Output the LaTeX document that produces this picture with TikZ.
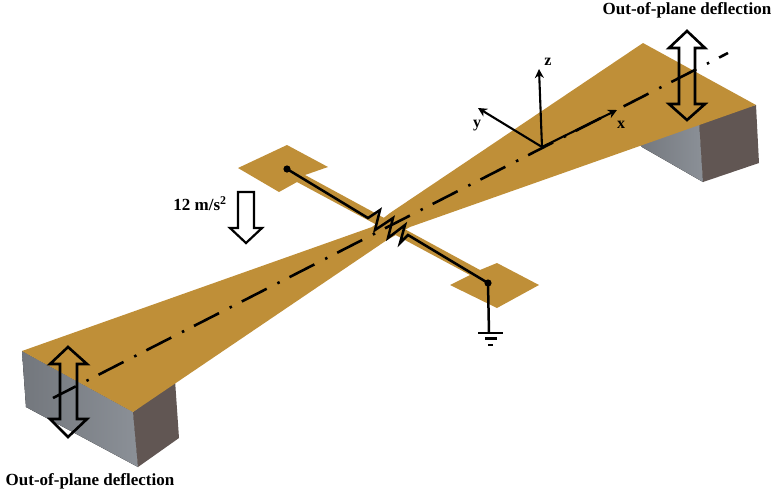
\documentclass[tikz,border=0pt]{standalone}
\usepackage{fontspec}
\setmainfont{Liberation Serif}
\definecolor{gold}{HTML}{BF8F38}
\definecolor{greyA}{HTML}{73777D}
\definecolor{greyB}{HTML}{8B9097}
\definecolor{brownish}{HTML}{615653}
\tikzset{
  wing/.style={fill=gold,draw=none},
  darkface/.style={fill=brownish,draw=none},
  greyface/.style={left color=greyA,right color=greyB,draw=none},
  wire/.style={draw=black,line width=2.5pt,line join=miter},
  outlinearrow/.style={draw=black,line width=2.6pt,line join=miter,fill=none},
  axisline/.style={draw=black,line width=2.1pt,-{Stealth[length=9pt,width=9pt]}},
  lab/.style={font=\bfseries\fontsize{17}{19}\selectfont,inner sep=0pt,text=black},
  axlab/.style={font=\bfseries\fontsize{16}{18}\selectfont,inner sep=0pt,text=black},
}
\usetikzlibrary{arrows.meta}
\begin{document}
\begin{tikzpicture}[x=1pt,y=-1pt]
\useasboundingbox (0,0) rectangle (777,499);
% blocks
\fill[greyface] (22,351) -- (26,407) -- (138,467) -- (133,412) -- cycle;
\fill[darkface] (133,412) -- (138,467) -- (179,438) -- (175,380) -- cycle;
\fill[greyface] (636,140) -- (642,147) -- (703,182) -- (699,120) -- cycle;
\fill[darkface] (699,120) -- (703,182) -- (759,163) -- (756,105) -- cycle;
% cantilever wings and the transverse beam with pads
\fill[wing] (22,351) -- (372,227) -- (390,213) -- (643,43) -- (756,105) -- (410,227) -- (387,240) -- (133,412) -- cycle;
\fill[wing] (238,168) -- (287,145) -- (328,167) -- (305,175) -- (480,270) -- (497,263) -- (539,285) -- (497,308) -- (450,285) -- (470,275) -- (297,182) -- (279,192) -- cycle;
% centre line
\coordinate (cA) at (53,398);
\coordinate (cB) at (728,53);
\draw[draw=black,line width=2.6pt,dash pattern=on 28pt off 12pt on 2.5pt off 11.1pt,dash phase=2.4pt] (cA) -- (cB);
% wire with piezoresistor
\coordinate (padL) at (287,169);
\coordinate (padR) at (488,283);
\coordinate (gnd) at (489,333);
\fill[black] (padL) circle (3.6pt);
\fill[black] (padR) circle (3.6pt);
\draw[wire] (padL) -- (368,218) -- (380,210) -- (375,230) -- (393,218) -- (388,238) -- (405,225) -- (400,243) -- (408,235) -- (padR);
\draw[wire] (padR) -- (gnd);
\coordinate (g1a) at (478,333); \coordinate (g1b) at (503,333);
\coordinate (g2a) at (485,338.5); \coordinate (g2b) at (497,338.5);
\coordinate (g3a) at (488,345); \coordinate (g3b) at (493,345);
\draw[wire] (g1a) -- (g1b);
\draw[wire] (g2a) -- (g2b);
\draw[wire] (g3a) -- (g3b);
% axes
\coordinate (o) at (542,147);
\coordinate (xt) at (617,110);
\coordinate (yt) at (478,108);
\coordinate (zt) at (539,69);
\draw[axisline] (o) -- (xt);
\draw[axisline] (o) -- (yt);
\draw[axisline] (o) -- (zt);
\node[axlab] (xl) at (621,125) {x};
\node[axlab] (yl) at (477,126) {y};
\node[axlab] (zl) at (548,62) {z};
% outlined arrows
\draw[outlinearrow] (68,347) -- (87,364) -- (77,364) -- (77,419) -- (87,419) -- (68,437) -- (50,419) -- (60,419) -- (60,364) -- (50,364) -- cycle;
\draw[outlinearrow] (687,31) -- (705,48) -- (695,48) -- (695,104) -- (705,104) -- (687,120) -- (669,104) -- (679,104) -- (679,48) -- (669,48) -- cycle;
\draw[outlinearrow,line width=2.2pt] (238,192) -- (254,192) -- (254,228) -- (262,228) -- (246,243) -- (230,228) -- (238,228) -- cycle;
% labels
\node[lab] (t1) at (687,10) {Out-of-plane deflection};
\node[lab] (t2) at (90,481) {Out-of-plane deflection};
\node[lab] (t3) at (200,204) {12 m/s\textsuperscript{2}};
\end{tikzpicture}
\end{document}
